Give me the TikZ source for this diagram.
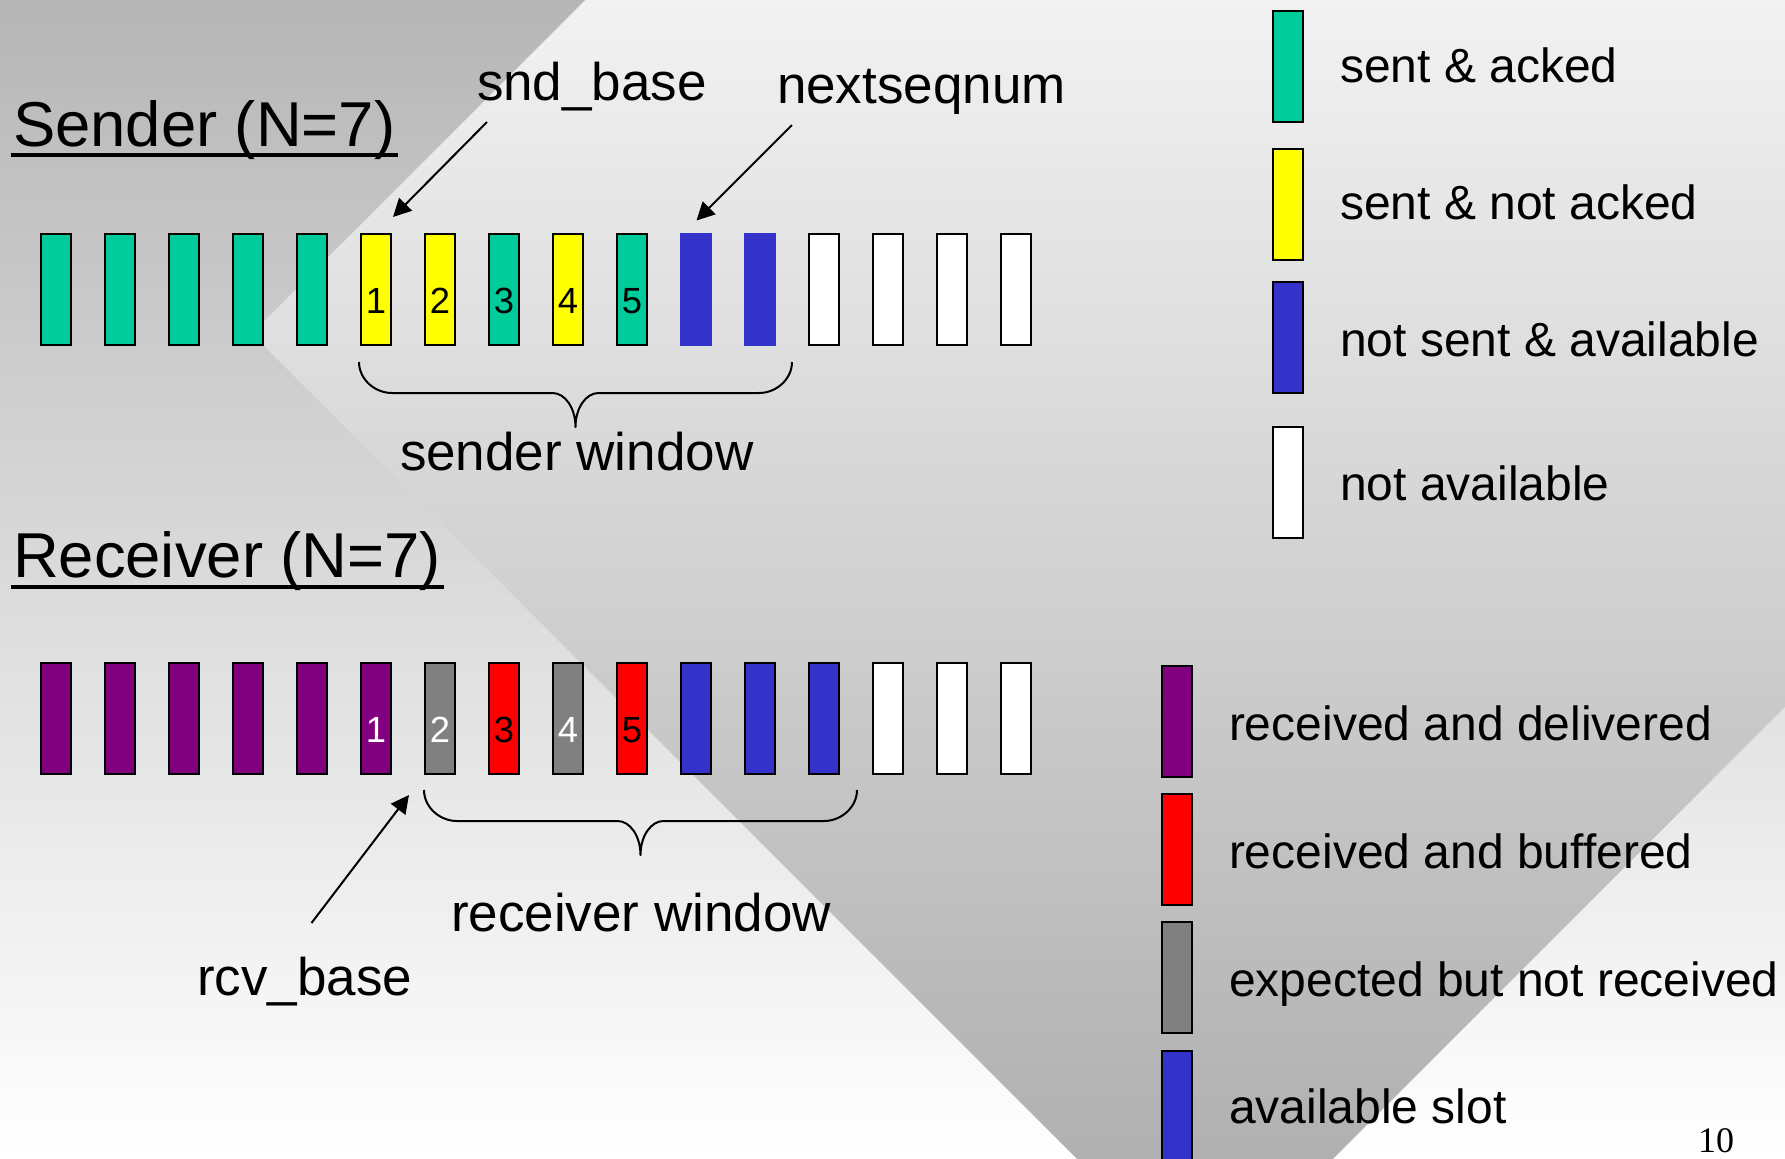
\documentclass[tikz,border=0pt]{standalone}
\usepackage{fontspec}
\setmainfont{Liberation Sans}
\newfontfamily\pagenumfont{Liberation Serif}
\usetikzlibrary{arrows.meta}

% slot colours
\definecolor{ackedcol}{HTML}{00CC99}
\definecolor{pendcol}{HTML}{FFFF00}
\definecolor{freecol}{HTML}{3333CC}
\definecolor{dlvcol}{HTML}{800080}
\definecolor{bufcol}{HTML}{FF0000}
\definecolor{expcol}{HTML}{808080}
% background shades
\definecolor{bgtop}{HTML}{F2F2F2}
\definecolor{bgbot}{HTML}{B0B0B0}
\definecolor{invtop}{HTML}{B6B6B6}
\definecolor{invmid}{HTML}{DEDEDE}
\definecolor{invbot}{HTML}{FFFFFF}

\begin{document}
\begin{tikzpicture}[x=0.5pt, y=-0.5pt,
  slot/.style={draw=black, line width=1pt, minimum width=15pt, minimum height=55.5pt,
    inner sep=0pt, outer sep=0pt},
  ackedslot/.style={slot, fill=ackedcol},
  pendslot/.style={slot, fill=pendcol},
  freeslot/.style={slot, fill=freecol, draw=none, minimum width=16pt, minimum height=56.5pt},
  availslot/.style={slot, fill=freecol},
  naslot/.style={slot, fill=white},
  dlvslot/.style={slot, fill=dlvcol},
  bufslot/.style={slot, fill=bufcol},
  expslot/.style={slot, fill=expcol},
  digit/.style={inner sep=0pt, outer sep=0pt, anchor=base, yshift=-11.75pt,
    font=\fontsize{18.2pt}{21pt}\selectfont},
  txt/.style={inner sep=0pt, outer sep=0pt, anchor=base west, text=black},
  titletxt/.style={txt, font=\fontsize{31.7pt}{36pt}\selectfont},
  labeltxt/.style={txt, font=\fontsize{26.5pt}{30pt}\selectfont},
  legendtxt/.style={txt, font=\fontsize{24pt}{28pt}\selectfont},
  conn/.style={line width=1pt, -{Triangle[length=9pt, width=9pt]}},
  bracestroke/.style={line width=1pt, line join=round},
  windowbrace/.pic={
    \draw[bracestroke] (0,0) .. controls (0,17) and (15.5,31) .. (33,31)
      -- (193.5,31) .. controls (206.2,31) and (216.5,46.2) .. (216.5,65)
      .. controls (216.5,46.2) and (226.8,31) .. (239.5,31)
      -- (400,31) .. controls (417.5,31) and (433,17) .. (433,0);
  }
]
\useasboundingbox (0,0) rectangle (1785,1158);
\clip (0,0) rectangle (1785,1158);

% ---- background: base gradient with two reversed-gradient panels ----
\shade[top color=bgtop, bottom color=bgbot] (-2,-2) rectangle (1787,1160);
\begin{scope}
  \clip (-2,-2) -- (587,-2) -- (251.5,333.5) -- (1078,1160) -- (-2,1160) -- cycle;
  \shade[top color=invtop, middle color=invmid, bottom color=invbot] (0,0) rectangle (1785,1158);
\end{scope}
\begin{scope}
  \clip (1787,705) -- (1787,1160) -- (1332,1160) -- cycle;
  \shade[top color=invtop, middle color=invmid, bottom color=invbot] (0,0) rectangle (1785,1158);
\end{scope}

% ---- titles ----
\node[titletxt] (sendtitle) at (13,146) {Sender (N=7)};
\draw[line width=2pt] ([xshift=-1pt,yshift=-4.25pt]sendtitle.base west)
  -- ([xshift=1.5pt,yshift=-4.25pt]sendtitle.base east);
\node[titletxt] (recvtitle) at (13,577) {Receiver (N=7)};
\draw[line width=2pt] ([xshift=-1pt,yshift=-4.75pt]recvtitle.base west)
  -- ([xshift=1.5pt,yshift=-4.75pt]recvtitle.base east);

% ---- sender sequence space ----
\foreach \i/\st in {0/ackedslot,1/ackedslot,2/ackedslot,3/ackedslot,4/ackedslot,
    5/pendslot,6/pendslot,7/ackedslot,8/pendslot,9/ackedslot,
    10/freeslot,11/freeslot,12/naslot,13/naslot,14/naslot,15/naslot}
  \node[\st] (s\i) at ({56+64*\i},289.5) {};
\foreach \i/\d in {5/1,6/2,7/3,8/4,9/5}
  \node[digit, text=black] (sn\i) at (s\i.center) {\d};

% ---- receiver sequence space ----
\foreach \i/\st in {0/dlvslot,1/dlvslot,2/dlvslot,3/dlvslot,4/dlvslot,5/dlvslot,
    6/expslot,7/bufslot,8/expslot,9/bufslot,
    10/availslot,11/availslot,12/availslot,13/naslot,14/naslot,15/naslot}
  \node[\st] (r\i) at ({56+64*\i},718.5) {};
\foreach \i/\d/\c in {5/1/white,6/2/white,7/3/black,8/4/white,9/5/black}
  \node[digit, text=\c] (rn\i) at (r\i.center) {\d};

% ---- pointers and windows ----
\node[labeltxt] (sndbase) at (477,100) {snd\_base};
\node[labeltxt] (nextseq) at (777,103) {nextseqnum};
\coordinate (sndtail) at (487,122);
\coordinate (sndtip) at (393,217);
\coordinate (nexttail) at (792,125);
\coordinate (nexttip) at (696.5,220.5);
\draw[conn] (sndtail) -- (sndtip);
\draw[conn] (nexttail) -- (nexttip);

\pic at (359,362) {windowbrace};
\node[labeltxt] (sendwin) at (400,470) {sender window};

\pic at (424,790) {windowbrace};
\node[labeltxt] (recvwin) at (451,931) {receiver window};

\node[labeltxt] (rcvbase) at (197,995) {rcv\_base};
\coordinate (rcvtail) at (311.5,923);
\coordinate (rcvtip) at (409,795);
\draw[conn] (rcvtail) -- (rcvtip);

% ---- sender legend ----
\node[ackedslot] (ls1) at (1287.5,66) {};
\node[pendslot]  (ls2) at (1287.5,204) {};
\node[availslot] (ls3) at (1287.5,337.5) {};
\node[naslot]    (ls4) at (1287.5,482) {};
\node[legendtxt] (lt1) at (1340,82) {sent \& acked};
\node[legendtxt] (lt2) at (1340,219) {sent \& not acked};
\node[legendtxt] (lt3) at (1340,356) {not sent \& available};
\node[legendtxt] (lt4) at (1340,500) {not available};

% ---- receiver legend ----
\node[dlvslot]   (lr1) at (1176.5,721.5) {};
\node[bufslot]   (lr2) at (1176.5,849.5) {};
\node[expslot]   (lr3) at (1176.5,977.5) {};
\node[availslot] (lr4) at (1176.5,1106) {};
\node[legendtxt] (lb1) at (1229,740) {received and delivered};
\node[legendtxt] (lb2) at (1229,868) {received and buffered};
\node[legendtxt] (lb3) at (1229,996) {expected but not received};
\node[legendtxt] (lb4) at (1229,1123) {available slot};

% ---- page number ----
\node[txt, font=\pagenumfont\fontsize{18pt}{20pt}\selectfont] (pagenum) at (1698,1152) {10};
\end{tikzpicture}
\end{document}
